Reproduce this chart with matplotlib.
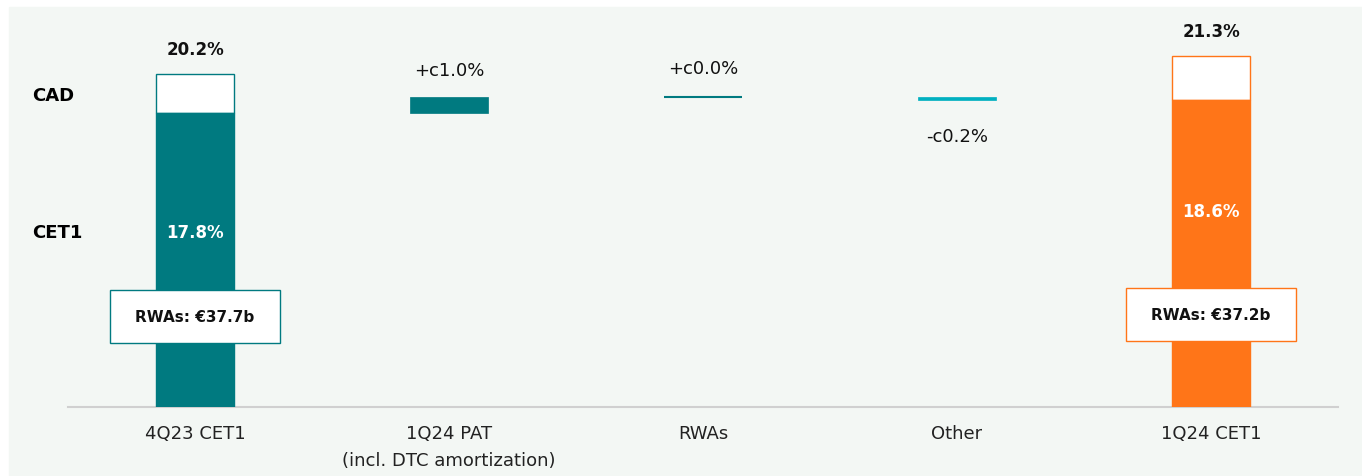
import numpy as np
import matplotlib.pyplot as plt
from matplotlib.patches import Rectangle

# Данные
categories = ['4Q23 CET1', '1Q24 PAT\n(incl. DTC amortization)', 'RWAs', 'Other', '1Q24 CET1']
cet1_start = 17.8
cad_start = 20.2
deltas = [1.0, 0.0, -0.2]
delta_labels = ['+c1.0%', '+c0.0%', '-c0.2%']
cet1_end = 18.6
cad_end = 21.3
rwa_labels = ['RWAs: €37.7b', 'RWAs: €37.2b']

# Стиль
teal = '#007A80'
orange = '#FF7518'
cyan = '#00B0C0'
bg = '#F3F7F4'
plt.rcParams['font.family'] = ['DejaVu Sans']

fig = plt.figure(figsize=(13.62, 4.77), dpi=100)
fig.patches.append(Rectangle((9 / 1362, 0), 1 - 9 / 1362, 1 - 8 / 477,
                             transform=fig.transFigure, color=bg, zorder=-10))
ax = fig.add_axes([68 / 1362, 69 / 477, 1270 / 1362, 408 / 477])
ax.set_facecolor('none')
ax.set_xlim(-0.5, 4.5)
ax.set_ylim(0, 408 / 16.5)

x = np.arange(len(categories))
w = 0.307

# Крайние столбцы: CET1 + рамка CAD
for xi, cet, cad, col in [(x[0], cet1_start, cad_start, teal), (x[-1], cet1_end, cad_end, orange)]:
    ax.bar(xi, cad - cet, w, bottom=cet, color='white', edgecolor=col, linewidth=1, zorder=2)
    ax.bar(xi, cet, w, color=col, edgecolor=col, linewidth=1, zorder=3)
    ax.annotate(f'{cad:.1f}%', (xi, cad), xytext=(0, 18), textcoords='offset points',
                ha='center', va='center', fontsize=12, fontweight='bold', color='#111111')

# Промежуточные шаги водопада
level = cet1_start
step_colors = [teal, teal, cyan]
for i, (d, lab, col) in enumerate(zip(deltas, delta_labels, step_colors)):
    xi = x[i + 1]
    bottom = level if d >= 0 else level + d
    ax.bar(xi, abs(d), w, bottom=bottom, color=col, edgecolor=col,
           linewidth=1.5 if d == 0 else 0.5, zorder=3)
    top = level + max(d, 0)
    if d >= 0:
        ax.annotate(lab, (xi, top), xytext=(0, 19 if d > 0 else 21), textcoords='offset points',
                    ha='center', va='center', fontsize=13, color='#111111')
    else:
        ax.annotate(lab, (xi, level + d), xytext=(0, -26), textcoords='offset points',
                    ha='center', va='center', fontsize=13, color='#111111')
    level += d

# Подписи внутри столбцов
ax.text(x[0], 10.6, f'{cet1_start:.1f}%', ha='center', va='center', fontsize=12,
        fontweight='bold', color='white', zorder=4)
ax.text(x[-1], 11.9, f'{cet1_end:.1f}%', ha='center', va='center', fontsize=12,
        fontweight='bold', color='white', zorder=4)

# Плашки RWAs
for xi, yc, lab, col in [(x[0], 5.5, rwa_labels[0], teal), (x[-1], 5.6, rwa_labels[1], orange)]:
    ax.add_patch(Rectangle((xi - 0.335, yc - 1.6), 0.67, 3.2, facecolor='white',
                           edgecolor=col, linewidth=1, zorder=5))
    ax.text(xi, yc, lab, ha='center', va='center', fontsize=11, fontweight='bold',
            color='#111111', zorder=6)

# Оси
for s in ['top', 'right', 'left']:
    ax.spines[s].set_visible(False)
ax.spines['bottom'].set_color('#D0D0D0')
ax.spines['bottom'].set_linewidth(1.5)
ax.set_yticks([])
ax.set_xticks(x)
ax.set_xticklabels(categories, fontsize=13, color='#222222', linespacing=1.65)
ax.tick_params(axis='x', length=0, pad=12)

fig.text(32 / 1362, 1 - 96 / 477, 'CAD', ha='left', va='center', fontsize=13, fontweight='bold')
fig.text(32 / 1362, 1 - 233 / 477, 'CET1', ha='left', va='center', fontsize=13, fontweight='bold')

fig.savefig('out.png', dpi=100, facecolor='white')
